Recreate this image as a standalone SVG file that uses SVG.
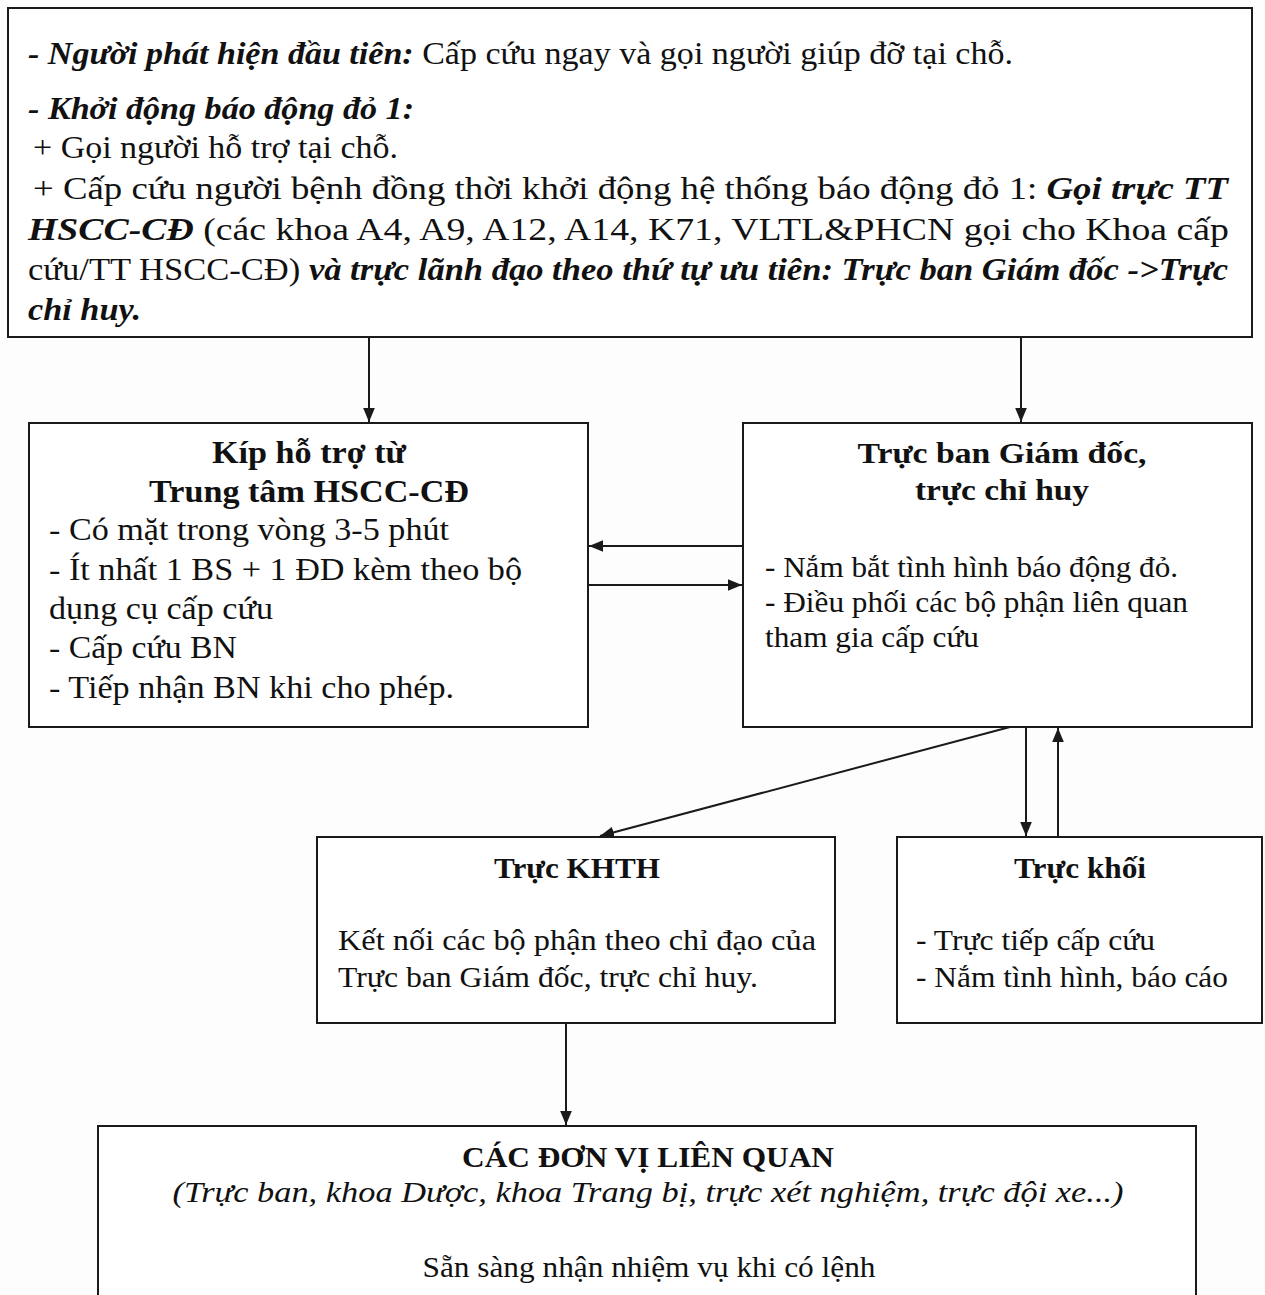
<svg xmlns="http://www.w3.org/2000/svg" width="1265" height="1295" viewBox="0 0 1265 1295">
<style>
.box{fill:#fff;stroke:#1a1a1a;stroke-width:2}
.t{font-family:"Liberation Serif","Times New Roman",serif;fill:#111}
.s30{font-size:31px}
.s31{font-size:32px}
.s28{font-size:29.5px}
.b{font-weight:bold}
.i{font-style:italic}
.c{text-anchor:middle}
.ln{stroke:#1a1a1a;stroke-width:2;fill:none}
</style>
<defs>
<marker id="ah" viewBox="0 0 12 10" refX="12" refY="5" markerWidth="14" markerHeight="12" markerUnits="userSpaceOnUse" orient="auto">
<path d="M0,0 L12,5 L0,10 z" fill="#1a1a1a"/>
</marker>
</defs>
<rect width="1265" height="1295" fill="#fdfdfd"/>

<g id="top">
<rect class="box" x="8" y="8" width="1244" height="329"/>
<text class="t s30" x="28" y="64" textLength="985" lengthAdjust="spacingAndGlyphs"><tspan class="b i">- Người phát hiện đầu tiên:</tspan> Cấp cứu ngay và gọi người giúp đỡ tại chỗ.</text>
<text class="t s30 b i" x="28" y="119" textLength="386" lengthAdjust="spacingAndGlyphs">- Khởi động báo động đỏ 1:</text>
<text class="t s30" x="33" y="158" textLength="365" lengthAdjust="spacingAndGlyphs">+ Gọi người hỗ trợ tại chỗ.</text>
<text class="t s30" x="33" y="199" textLength="1195" lengthAdjust="spacingAndGlyphs">+ Cấp cứu người bệnh đồng thời khởi động hệ thống báo động đỏ 1: <tspan class="b i">Gọi trực TT</tspan></text>
<text class="t s30" x="28" y="240" textLength="1201" lengthAdjust="spacingAndGlyphs"><tspan class="b i">HSCC-CĐ</tspan> (các khoa A4, A9, A12, A14, K71, VLTL&amp;PHCN gọi cho Khoa cấp</text>
<text class="t s30" x="28" y="280" textLength="1200" lengthAdjust="spacingAndGlyphs">cứu/TT HSCC-CĐ) <tspan class="b i">và trực lãnh đạo theo thứ tự ưu tiên: Trực ban Giám đốc -&gt;Trực</tspan></text>
<text class="t s30 b i" x="28" y="320" textLength="113" lengthAdjust="spacingAndGlyphs">chỉ huy.</text>
</g>

<g id="kip">
<rect class="box" x="29" y="423" width="559" height="304"/>
<text class="t s31 b c" x="309" y="463" textLength="194" lengthAdjust="spacingAndGlyphs">Kíp hỗ trợ từ</text>
<text class="t s31 b c" x="309" y="502" textLength="320" lengthAdjust="spacingAndGlyphs">Trung tâm HSCC-CĐ</text>
<text class="t s31" x="49" y="540" textLength="400" lengthAdjust="spacingAndGlyphs">- Có mặt trong vòng 3-5 phút</text>
<text class="t s31" x="49" y="580" textLength="473" lengthAdjust="spacingAndGlyphs">- Ít nhất 1 BS + 1 ĐD kèm theo bộ</text>
<text class="t s31" x="49" y="619" textLength="224" lengthAdjust="spacingAndGlyphs">dụng cụ cấp cứu</text>
<text class="t s31" x="49" y="658" textLength="188" lengthAdjust="spacingAndGlyphs">- Cấp cứu BN</text>
<text class="t s31" x="49" y="698" textLength="405" lengthAdjust="spacingAndGlyphs">- Tiếp nhận BN khi cho phép.</text>
</g>

<g id="bgd">
<rect class="box" x="743" y="423" width="509" height="304"/>
<text class="t s28 b c" x="1002" y="463" textLength="289" lengthAdjust="spacingAndGlyphs">Trực ban Giám đốc,</text>
<text class="t s28 b c" x="1002" y="500" textLength="174" lengthAdjust="spacingAndGlyphs">trực chỉ huy</text>
<text class="t s28" x="765" y="577" textLength="413" lengthAdjust="spacingAndGlyphs">- Nắm bắt tình hình báo động đỏ.</text>
<text class="t s28" x="765" y="612" textLength="423" lengthAdjust="spacingAndGlyphs">- Điều phối các bộ phận liên quan</text>
<text class="t s28" x="765" y="647" textLength="214" lengthAdjust="spacingAndGlyphs">tham gia cấp cứu</text>
</g>

<g id="khth">
<rect class="box" x="317" y="837" width="518" height="186"/>
<text class="t s28 b c" x="577" y="878" textLength="166" lengthAdjust="spacingAndGlyphs">Trực KHTH</text>
<text class="t s28" x="338" y="950" textLength="478" lengthAdjust="spacingAndGlyphs">Kết nối các bộ phận theo chỉ đạo của</text>
<text class="t s28" x="338" y="987" textLength="420" lengthAdjust="spacingAndGlyphs">Trực ban Giám đốc, trực chỉ huy.</text>
</g>

<g id="khoi">
<rect class="box" x="897" y="837" width="365" height="186"/>
<text class="t s28 b c" x="1080" y="878" textLength="132" lengthAdjust="spacingAndGlyphs">Trực khối</text>
<text class="t s28" x="916" y="950" textLength="239" lengthAdjust="spacingAndGlyphs">- Trực tiếp cấp cứu</text>
<text class="t s28" x="916" y="987" textLength="312" lengthAdjust="spacingAndGlyphs">- Nắm tình hình, báo cáo</text>
</g>

<g id="donvi">
<rect class="box" x="98" y="1126" width="1098" height="200"/>
<text class="t s28 b c" x="648" y="1167" textLength="372" lengthAdjust="spacingAndGlyphs">CÁC ĐƠN VỊ LIÊN QUAN</text>
<text class="t s28 i c" x="648" y="1202" textLength="951" lengthAdjust="spacingAndGlyphs">(Trực ban, khoa Dược, khoa Trang bị, trực xét nghiệm, trực đội xe...)</text>
<text class="t s28 c" x="649" y="1277" textLength="453" lengthAdjust="spacingAndGlyphs">Sẵn sàng nhận nhiệm vụ khi có lệnh</text>
</g>

<g id="connectors">
<line class="ln" x1="369" y1="337" x2="369" y2="422" marker-end="url(#ah)"/>
<line class="ln" x1="1021" y1="337" x2="1021" y2="422" marker-end="url(#ah)"/>
<line class="ln" x1="743" y1="546" x2="589" y2="546" marker-end="url(#ah)"/>
<line class="ln" x1="588" y1="585" x2="742" y2="585" marker-end="url(#ah)"/>
<line class="ln" x1="1010" y1="727" x2="600" y2="836" marker-end="url(#ah)"/>
<line class="ln" x1="1026" y1="727" x2="1026" y2="836" marker-end="url(#ah)"/>
<line class="ln" x1="1058" y1="837" x2="1058" y2="728" marker-end="url(#ah)"/>
<line class="ln" x1="566" y1="1023" x2="566" y2="1125" marker-end="url(#ah)"/>
</g>
</svg>
